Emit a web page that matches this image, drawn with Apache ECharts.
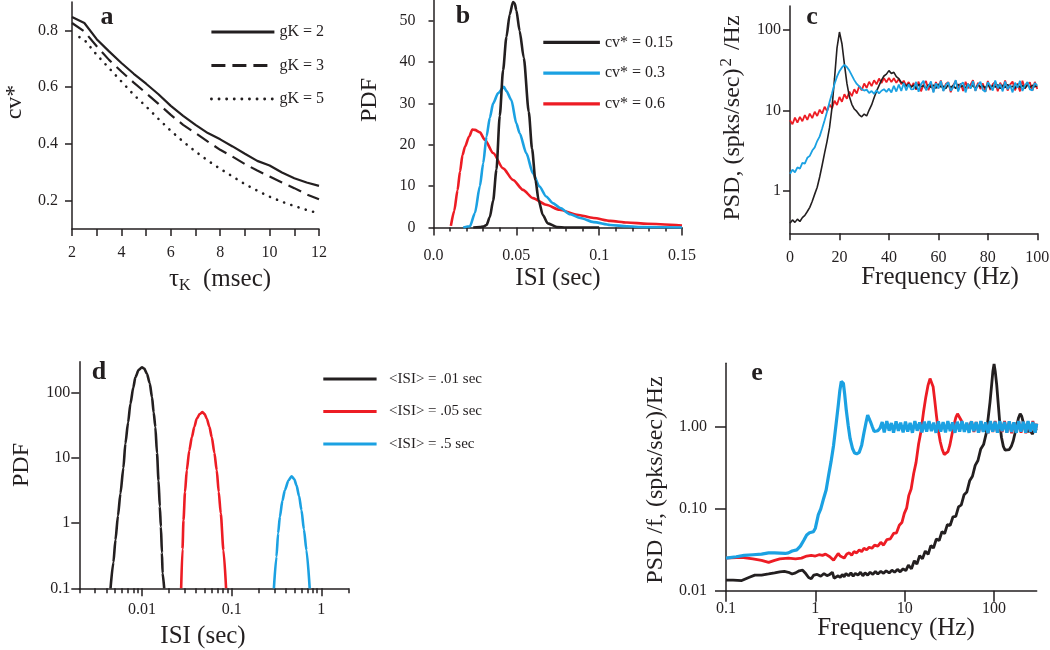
<!DOCTYPE html>
<html>
<head>
<meta charset="utf-8">
<script src="https://cdn.jsdelivr.net/npm/echarts@6/dist/echarts.min.js"></script>
<style>
html,body{margin:0;padding:0;background:#fff;}
#chart{width:1050px;height:650px;}
</style>
</head>
<body>
<div id="chart"></div>
<script>
// ---------- Panel a : cv* vs tau_K ----------
const aG2 = [[2,0.847],[2.5,0.826],[3,0.769],[3.5,0.726],[4,0.685],[4.5,0.647],[5,0.612],[5.5,0.575],[6,0.534],[6.5,0.499],[7,0.467],[7.5,0.438],[8,0.416],[8.5,0.391],[9,0.365],[9.5,0.34],[10,0.324],[10.5,0.299],[11,0.279],[11.5,0.264],[12,0.252]];
const aG3 = [[2,0.826],[2.5,0.796],[3,0.744],[3.5,0.696],[4,0.655],[4.5,0.616],[5,0.579],[5.5,0.541],[6,0.502],[6.5,0.467],[7,0.438],[7.5,0.408],[8,0.379],[8.5,0.355],[9,0.329],[9.5,0.306],[10,0.285],[10.5,0.264],[11,0.244],[11.5,0.222],[12,0.205]];
const aG5 = [[2.3,0.776],[2.5,0.767],[3,0.714],[3.5,0.667],[4,0.62],[4.5,0.573],[5,0.532],[5.5,0.488],[6,0.446],[6.5,0.408],[7,0.373],[7.5,0.341],[8,0.312],[8.5,0.285],[9,0.258],[9.5,0.235],[10,0.214],[10.5,0.196],[11,0.181],[11.5,0.167],[12,0.155]];
const aNames = ['gK = 2','gK = 3','gK = 5'];
const aXLabels = [2,4,6,8,10,12];
const aYTicks = [0.2,0.4,0.6,0.8];

// ---------- Panel b : ISI PDFs ----------
const bBlack = [[0.024,0],[0.028,0.1],[0.030,0.2],[0.032,0.6],[0.034,2.5],[0.036,6.5],[0.038,14],[0.040,27],[0.042,38],[0.044,46],[0.046,51.5],[0.048,54.5],[0.049,54.2],[0.050,52.5],[0.052,47.5],[0.0545,41],[0.0575,28],[0.0595,19],[0.0615,11.5],[0.0635,6.5],[0.066,3],[0.069,1],[0.0745,0.1],[0.08,0],[0.1,0]];
const bBlue = [[0.018,0],[0.022,0.3],[0.025,3.5],[0.028,10],[0.030,15.5],[0.032,22],[0.034,26.5],[0.036,30],[0.039,32.5],[0.0425,34],[0.044,33],[0.047,30.8],[0.050,25.2],[0.052,22.8],[0.056,18],[0.060,13.1],[0.064,9.9],[0.068,7.5],[0.072,5.9],[0.0765,4.7],[0.0825,3.2],[0.0886,2.3],[0.0966,1.3],[0.1067,0.6],[0.1168,0.3],[0.127,0.1],[0.15,0]];
const bRed = [[0.0105,0.4],[0.0125,4],[0.0145,9],[0.016,13.5],[0.0175,17.5],[0.019,19.5],[0.0215,22],[0.0235,23.7],[0.025,23.6],[0.028,23],[0.031,21.2],[0.036,18],[0.042,14.3],[0.048,11.5],[0.054,9.1],[0.060,7.1],[0.068,5.5],[0.076,4.3],[0.0866,3.1],[0.0966,2.3],[0.1067,1.6],[0.1168,1.2],[0.129,0.9],[0.15,0.5]];
const bNames = ['cv* = 0.15','cv* = 0.3','cv* = 0.6'];
const bYTicks = [0,10,20,30,40,50];

// ---------- Panel c : PSD ----------
const cFreq = [0,1,2,3,4,5,6,7,8,9,10,11,12,13,14,15,16,17,18,19,20,21,22,23,24,25,26,27,28,29,30,31,32,33,34,35,36,37,38,39,40,41,42,43,44,45,46,47,48,49,50,51,52,53,54,55,56,57,58,59,60,61,62,63,64,65,66,67,68,69,70,71,72,73,74,75,76,77,78,79,80,81,82,83,84,85,86,87,88,89,90,91,92,93,94,95,96,97,98,99,100];
const cBlack = [0.40,0.44,0.41,0.45,0.42,0.47,0.50,0.56,0.63,0.75,
  0.92,1.12,1.5,2.1,3.0,4.2,6.2,11,25,60,
  95,68,38,22,15,12,10.5,9.8,8.9,8.4,
  9.1,8.6,10.2,11.8,14.5,17.5,20.5,24,27,28.5,
  31.5,29,30,26.5,25,22.5,21.8,20.2,21.5,19.6,
  20.8,18.9,21.3,19.8,20.5,18.6,21.1,19.4,20.9,19.0,
  21.4,19.7,20.2,18.8,21.0,19.5,20.6,18.9,21.2,19.9,
  20.4,19.1,21.5,19.3,20.7,18.7,21.0,19.8,20.3,19.2,
  21.3,19.0,20.6,19.6,21.1,18.8,20.8,19.4,21.2,19.7,
  20.1,18.9,21.4,19.5,20.5,19.0,21.0,19.3,20.7,19.8,
  20.4];
const cBlue = [1.65,1.85,1.72,1.98,1.9,2.25,2.2,2.6,2.75,3.2,
  3.5,4.2,4.8,6.0,7.6,9.8,12.8,16.5,21.5,26.5,
  31,34.5,37,35,31.5,27.5,24,21.5,20,18.5,
  17.8,18.3,16.6,17.6,16.2,17.9,16.4,17.7,18.5,17.1,
  18.8,16.9,20.4,17.3,21.2,17.6,22.1,17.9,21.3,18.4,
  18.6,22.8,17.2,21.4,23.6,17.9,20.2,23.1,16.8,21.9,
  18.9,23.4,17.5,20.8,22.6,17.7,19.6,24.0,17.3,21.2,
  22.4,16.9,21.6,18.8,23.3,17.6,21.0,22.9,18.1,17.2,
  22.6,20.4,17.8,23.7,19.0,21.5,17.4,23.1,18.5,20.9,
  16.9,22.3,19.3,23.5,17.6,20.6,22.8,18.4,17.9,22.1,
  20.5];
const cRed = [7.6,6.8,8.2,7.1,8.4,7.4,8.8,7.7,9.2,8.1,
  9.7,8.6,10.3,9.2,11.2,9.9,12.0,10.7,13.3,11.8,
  14.8,12.9,16.0,14.1,17.3,15.2,18.5,16.4,20.3,17.9,
  21.8,19.2,22.9,20.2,23.9,21.3,25.1,22.1,25.4,22.6,
  25.6,22.8,25.3,22.2,24.8,21.4,23.6,20.4,22.7,19.6,
  22.1,18.2,23.0,17.4,21.2,23.4,18.0,22.0,17.3,22.7,
  19.0,23.8,17.8,21.5,22.6,17.0,20.6,23.5,18.3,21.9,
  17.6,22.9,19.1,21.0,24.0,17.7,22.2,18.6,21.8,17.2,
  23.4,18.1,21.4,22.7,17.5,22.3,19.2,23.7,17.8,21.1,
  23.0,17.9,21.7,17.4,23.6,18.8,21.3,22.5,17.7,22.8,
  18.6];
const cYTicks = [1,10,100];

// ---------- Panel d : log-log ISI PDFs ----------
const dBlack = [[0.00446,0.1],[0.0048,0.25],[0.00506,0.55],[0.0054,1.3],[0.00575,2.84],[0.0062,7],[0.00653,16.6],[0.007,35],[0.00743,67.8],[0.008,120],[0.00844,173],[0.0092,225],[0.01,247],[0.0106,235],[0.01137,195],[0.0122,140],[0.01294,85.7],[0.0135,50],[0.0141,29.8],[0.0147,12],[0.0153,4.5],[0.0158,1.8],[0.01626,0.88],[0.0167,0.35],[0.01698,0.17],[0.0177,0.1]];
const dRed = [[0.02735,0.1],[0.0283,0.4],[0.02904,1.11],[0.0302,3],[0.0316,6.46],[0.0337,13],[0.036,20.9],[0.0384,30],[0.0408,40],[0.044,47],[0.0473,50.5],[0.05,47],[0.0528,40],[0.0565,30],[0.06,20.9],[0.0642,12],[0.0682,6.46],[0.0718,3],[0.0756,1.41],[0.081,0.385],[0.0867,0.1]];
const dBlue = [[0.296,0.1],[0.316,0.305],[0.33,0.7],[0.345,1.25],[0.368,2.2],[0.392,3.2],[0.43,4.5],[0.466,5.24],[0.5,4.7],[0.529,3.81],[0.565,2.6],[0.601,1.58],[0.64,0.8],[0.683,0.385],[0.742,0.1]];
const dNames = ['<ISI> = .01 sec','<ISI> = .05 sec','<ISI> = .5 sec'];
const dXTicks = [0.01,0.1,1];
const dXMinor = [0.002,0.003,0.004,0.005,0.006,0.007,0.008,0.009,0.02,0.03,0.04,0.05,0.06,0.07,0.08,0.09,0.2,0.3,0.4,0.5,0.6,0.7,0.8,0.9,2];
const dYTicks = [0.1,1,10,100];

// ---------- Panel e : PSD/f ----------
const eBlue = [[0.1,0.025],[0.13,0.026],[0.16,0.027],[0.2,0.0275],[0.25,0.028],[0.3,0.029],[0.35,0.029],[0.4,0.0288],[0.46,0.0285],[0.5,0.029],[0.55,0.0305],[0.62,0.0315],[0.68,0.035],[0.74,0.041],[0.8,0.048],[0.86,0.051],[0.95,0.0525],[1.0,0.058],[1.08,0.085],[1.15,0.1],[1.24,0.135],[1.32,0.17],[1.41,0.26],[1.5,0.38],[1.6,0.6],[1.7,1.05],[1.8,1.8],[1.88,2.8],[1.95,3.6],[2.0,3.8],[2.06,3.4],[2.13,2.5],[2.22,1.6],[2.33,1.05],[2.45,0.72],[2.6,0.55],[2.75,0.48],[2.9,0.47],[3.1,0.49],[3.3,0.6],[3.5,0.85],[3.7,1.15],[3.85,1.4],[4.0,1.35],[4.15,1.15],[4.35,1.0],[4.55,0.88],[4.75,0.85],[5.0,0.9],[5.3,0.97],
  [5.6,1.15],[5.9,0.86],[6.3,1.18],[6.7,0.9],[7.1,1.12],[7.5,0.85],[8.0,1.17],[8.5,0.9],[9.0,1.13],[9.6,0.86],[10.2,1.16],[10.8,0.88],[11.5,1.12],[12.2,0.85],[13,1.18],[13.8,0.9],[14.7,1.14],[15.6,0.86],[16.6,1.16],[17.6,0.88],[18.7,1.18],[19.9,0.89],[21.1,1.13],[22.4,0.85],[23.8,1.17],[25.3,0.88],[26.9,1.15],[28.6,0.86],[30.4,1.18],[32.3,0.89],[34.3,1.14],[36.5,0.85],[38.8,1.16],[41.2,0.88],[43.8,1.18],[46.5,0.87],[49.4,1.13],[52.5,0.85],[55.8,1.17],[59.3,0.89],[63,1.15],[67,0.85],[71.2,1.18],[75.7,0.87],[80.4,1.14],[85.5,0.84],[90.8,1.18],[96.5,0.88],[102.6,1.16],[109,0.85],[115.8,1.18],[123,0.89],[130.8,1.15],[139,0.85],[147.7,1.17],[157,0.87],[166.8,1.14],[177.3,0.85],[188.4,1.18],[200,0.88],[212.7,1.16],[226,0.85],[240,1.18],[255,0.88],[271,1.15],[288,0.85],[300,1.1]];
const eRed = [[0.1,0.025],[0.15,0.0255],[0.2,0.0245],[0.25,0.0235],[0.3,0.0222],[0.35,0.0235],[0.4,0.0245],[0.5,0.025],[0.6,0.0245],[0.7,0.025],[0.8,0.0265],[0.9,0.027],[1.0,0.0265],[1.1,0.0275],[1.2,0.027],[1.3,0.028],[1.45,0.026],[1.6,0.0235],[1.7,0.026],[1.8,0.0285],[1.9,0.0265],[2.0,0.0275],[2.1,0.025],[2.25,0.028],[2.4,0.029],[2.55,0.027],[2.7,0.03],[2.9,0.029],[3.1,0.0315],[3.3,0.03],[3.5,0.033],[3.75,0.0315],[4.0,0.034],[4.3,0.033],[4.6,0.036],[5.0,0.035],[5.4,0.039],[5.8,0.036],[6.3,0.042],[6.9,0.043],[7.5,0.05],[8.1,0.051],[8.7,0.063],[9.3,0.068],[9.9,0.088],[10.5,0.102],[11.1,0.145],[11.8,0.175],[12.6,0.27],[13.4,0.37],[14.3,0.62],[15.2,0.88],[16.2,1.5],[17.2,2.3],[18.2,3.2],[19.2,3.9],[20.0,3.85],[20.8,3.1],[21.7,2.1],[22.7,1.35],[23.8,0.9],[25,0.66],[26.3,0.53],[27.7,0.46],[29,0.45],[30.5,0.5],[32,0.6],[33.7,0.8],[35.5,1.05],[37.3,1.3],[39,1.45],[41,1.4],[43,1.2],[45,1.05],[47.5,0.95],[50,0.92],
  [53,1.05],[56,1.17],[59.5,0.87],[63.2,1.15],[67.2,0.85],[71.4,1.17],[75.9,0.88],[80.6,1.14],[85.7,0.84],[91,1.16],[96.7,0.87],[102.8,1.18],[109.2,0.85],[116,1.14],[123.3,0.87],[131,1.18],[139.2,0.85],[148,1.16],[157.2,0.84],[167,1.14],[177.5,0.87],[188.6,1.18],[200.4,0.85],[213,1.16],[226.3,0.84],[240.5,1.16],[255.6,0.87],[271.6,1.18],[288.6,0.85],[300,1.1]];
const eBlack = [[0.1,0.0135],[0.12,0.0135],[0.15,0.0133],[0.18,0.0145],[0.21,0.0155],[0.25,0.0155],[0.3,0.016],[0.35,0.0165],[0.4,0.017],[0.45,0.0172],[0.5,0.0168],[0.55,0.016],[0.6,0.0165],[0.66,0.0175],[0.72,0.0178],[0.78,0.0162],[0.84,0.0145],[0.9,0.014],[0.96,0.0155],[1.05,0.0158],[1.15,0.015],[1.25,0.0162],[1.35,0.0153],[1.45,0.0158],[1.55,0.0168],[1.62,0.0142],[1.7,0.014],[1.8,0.0152],[1.9,0.0145],[2.0,0.0158],[2.1,0.0148],[2.2,0.0162],[2.35,0.0152],[2.5,0.0165],[2.65,0.015],[2.8,0.0163],[3.0,0.0155],[3.2,0.0168],[3.4,0.0152],[3.6,0.0165],[3.85,0.0155],[4.1,0.0168],[4.4,0.0158],[4.7,0.0172],[5.0,0.016],[5.4,0.0172],[5.8,0.0163],[6.2,0.0175],[6.7,0.0165],[7.2,0.0178],[7.7,0.0168],[8.3,0.0182],[8.9,0.017],[9.6,0.0185],[10.3,0.0176],[11,0.0205],[11.9,0.0185],[12.8,0.0232],[13.7,0.0212],[14.7,0.0268],[15.8,0.0246],[17,0.0305],[18.3,0.0278],[19.6,0.0355],[21,0.0332],[22.6,0.0428],[24.3,0.041],[26.1,0.0525],[28,0.05],[30,0.064],[32.3,0.063],[34.7,0.08],[37.3,0.081],[40,0.106],[43,0.112],[46.2,0.149],[49.6,0.161],[53.3,0.22],[57.3,0.25],[61.5,0.34],[66,0.39],[71,0.54],[76.3,0.61],[82,0.85],[86,1.3],[90,2.0],[94,3.3],[97,4.8],[100,5.9],[103,4.8],[107,3.3],[111,2.0],[116,1.1],[121,0.75],[127,0.58],[133,0.52],[140,0.51],[148,0.53],[156,0.58],[164,0.68],[172,0.85],[180,1.05],[188,1.3],[196,1.45],[204,1.35],[214,1.1],[225,0.95],[238,0.88],[252,0.92],[268,0.82],[285,0.95],[300,0.9]];
const eXTicks = [0.1,1,10,100];
const eYTicks = [0.01,0.1,1];

// ---------- styling ----------
const FONT = 'Liberation Serif';
const INK = '#231f20';
const RED = '#ed1c24';
const BLUE = '#1ba1e2';
const tickFont = {fontFamily: FONT, fontSize: 16, color: INK};
const axLine = {show: true, lineStyle: {color: INK, width: 1.5}};

function xAx(grid, opt) {
  return Object.assign({gridIndex: grid, position: 'bottom', axisLine: axLine, splitLine: {show: false}}, opt);
}
function yAx(grid, opt) {
  return Object.assign({gridIndex: grid, position: 'left', axisLine: axLine, splitLine: {show: false}}, opt);
}
function tick(len, custom) {
  const t = {show: true, length: len, lineStyle: {color: INK, width: 1.5}};
  if (custom) t.customValues = custom;
  return t;
}
function line(name, xi, yi, data, color, width, extra) {
  return {
    name: name, type: 'line', xAxisIndex: xi, yAxisIndex: yi, data: data,
    symbol: 'none', showSymbol: false, animation: false,
    lineStyle: Object.assign({color: color, width: width}, extra || {}),
    itemStyle: {color: color}
  };
}
const zip = (xs, ys) => xs.map((x, i) => [x, ys[i]]);

const grids = [
  {left: 72, top: 2, width: 247, height: 227},
  {left: 433.5, top: 0, width: 248.5, height: 227.5},
  {left: 790, top: 6, width: 247.3, height: 227.3},
  {left: 79.3, top: 361.7, width: 269, height: 226.6},
  {left: 726, top: 363.3, width: 310.7, height: 227.4}
].map(g => Object.assign({outerBoundsMode: 'none', containLabel: false}, g));

const xAxes = [
  xAx(0, {type: 'value', min: 2, max: 12, interval: 1, axisTick: tick(7),
    axisLabel: Object.assign({customValues: aXLabels, margin: 16}, tickFont)}),
  xAx(1, {type: 'value', min: 0, max: 0.15, interval: 0.05, offset: 6, axisTick: tick(8),
    minorTick: {show: true, splitNumber: 5, length: 4, lineStyle: {color: INK, width: 1.5}},
    axisLabel: Object.assign({margin: 14, formatter: v => (v === 0 ? '0.0' : String(+v.toFixed(2)))}, tickFont)}),
  xAx(2, {type: 'value', min: 0, max: 100, interval: 20, axisTick: tick(7),
    axisLabel: Object.assign({margin: 16}, tickFont)}),
  xAx(3, {type: 'log', min: 0.002, max: 2, axisTick: tick(8, dXTicks),
    axisLabel: Object.assign({customValues: dXTicks, margin: 13, formatter: v => String(+(+v).toPrecision(3))}, tickFont)}),
  xAx(3, {type: 'log', min: 0.002, max: 2, axisLine: {show: false}, axisTick: tick(5, dXMinor),
    axisLabel: {show: false}}),
  xAx(4, {type: 'log', min: 0.1, max: 300, axisTick: tick(11, eXTicks),
    axisLabel: Object.assign({customValues: eXTicks, margin: 10, formatter: v => String(+(+v).toPrecision(3))}, tickFont)})
];
const yAxes = [
  yAx(0, {type: 'value', min: 0.1, max: 0.9, axisTick: tick(7, aYTicks),
    axisLabel: Object.assign({customValues: aYTicks, margin: 14, formatter: v => (+v).toFixed(1)}, tickFont)}),
  yAx(1, {type: 'value', min: 0, max: 55, axisTick: tick(5, bYTicks),
    axisLabel: Object.assign({customValues: bYTicks, margin: 18}, tickFont)}),
  yAx(2, {type: 'log', min: 0.3, max: 200, axisTick: tick(7, cYTicks),
    axisLabel: Object.assign({customValues: cYTicks, margin: 9, formatter: v => String(Math.round(v))}, tickFont)}),
  yAx(3, {type: 'log', min: 0.1, max: 300, axisTick: tick(8, dYTicks),
    axisLabel: Object.assign({customValues: dYTicks, margin: 9, formatter: v => String(+(+v).toPrecision(3))}, tickFont)}),
  yAx(4, {type: 'log', min: 0.01, max: 6, axisTick: tick(11, eYTicks),
    axisLabel: Object.assign({customValues: eYTicks, margin: 19, formatter: v => (+v).toFixed(2)}, tickFont)})
];

const series = [
  line(aNames[0], 0, 0, aG2, INK, 2.2),
  line(aNames[1], 0, 0, aG3, INK, 2.2, {type: [14, 7]}),
  line(aNames[2], 0, 0, aG5, INK, 2.6, {type: [0.1, 7.5], cap: 'round'}),
  line(bNames[2], 1, 1, bRed, RED, 2.6),
  line(bNames[1], 1, 1, bBlue, BLUE, 2.6),
  line(bNames[0], 1, 1, bBlack, INK, 2.6),
  line('c red', 2, 2, zip(cFreq, cRed), RED, 1.8),
  line('c black', 2, 2, zip(cFreq, cBlack), INK, 1.6),
  line('c blue', 2, 2, zip(cFreq, cBlue), BLUE, 1.8),
  line(dNames[0], 3, 3, dBlack, INK, 2.6),
  line(dNames[1], 3, 3, dRed, RED, 2.6),
  line(dNames[2], 3, 3, dBlue, BLUE, 2.6),
  line('e black', 5, 4, eBlack, INK, 2.8),
  line('e red', 5, 4, eRed, RED, 2.8),
  line('e blue', 5, 4, eBlue, BLUE, 3.2)
];
[3,4,5,9,10,11].forEach(i => { series[i].smooth = 0.25; series[i].smoothMonotone = 'x'; });

const legendText = {fontFamily: FONT, fontSize: 16, color: INK, lineHeight: 18};
const legends = [
  {data: aNames, left: 210, top: 23, itemWidth: 63, itemHeight: 18, itemGap: 15.5, lineStyle: {width: 2.8}},
  {data: bNames, left: 541.7, top: 33.3, itemWidth: 56.6, itemHeight: 18, itemGap: 12.8, lineStyle: {width: 3.2}},
  {data: dNames, left: 321.7, top: 370, itemWidth: 53.3, itemHeight: 18, itemGap: 14.5, lineStyle: {width: 3.2},
   formatter: n => '  ' + n, textStyle: Object.assign({}, legendText, {fontSize: 15})}
].map(l => Object.assign({orient: 'vertical', padding: 0, selectedMode: false, textStyle: legendText,
  itemStyle: {opacity: 0, borderWidth: 0}}, l));

function txt(x, y, text, size, opt) {
  return Object.assign({type: 'text', x: x, y: y, silent: true,
    style: Object.assign({text: text, fontFamily: FONT, fontSize: size, fill: INK, align: 'center', verticalAlign: 'middle'}, (opt && opt.style) || {})},
    opt && opt.rotation ? {rotation: opt.rotation} : {});
}
const V = Math.PI / 2;
const graphics = [
  txt(107, 17, 'a', 26, {style: {fontWeight: 'bold'}}),
  txt(463, 16, 'b', 26, {style: {fontWeight: 'bold'}}),
  txt(812, 17, 'c', 26, {style: {fontWeight: 'bold'}}),
  txt(99, 372, 'd', 26, {style: {fontWeight: 'bold'}}),
  txt(757, 373, 'e', 26, {style: {fontWeight: 'bold'}}),
  txt(15, 102, 'cv*', 24, {rotation: V}),
  txt(220, 279, '{m|τ}{s|K}{m|  (msec)}', 25, {style: {rich: {
    m: {fontFamily: FONT, fontSize: 25, fill: INK, lineHeight: 30},
    s: {fontFamily: FONT, fontSize: 16, fill: INK, lineHeight: 16, verticalAlign: 'bottom'}}}}),
  txt(370, 100, 'PDF', 24, {rotation: V}),
  txt(558, 278, 'ISI (sec)', 25),
  txt(733, 118, '{m|PSD, (spks/sec)}{p|2}{m| /Hz}', 24, {rotation: V, style: {rich: {
    m: {fontFamily: FONT, fontSize: 24, fill: INK, lineHeight: 30},
    p: {fontFamily: FONT, fontSize: 17, fill: INK, lineHeight: 17, verticalAlign: 'top', padding: [0, 2, 0, 2]}}}}),
  txt(940, 277, 'Frequency (Hz)', 25),
  txt(22, 465, 'PDF', 24, {rotation: V}),
  txt(203, 636, 'ISI (sec)', 25),
  txt(656, 480, 'PSD /f, (spks/sec)/Hz', 24, {rotation: V}),
  txt(896, 628, 'Frequency (Hz)', 25)
];

const chart = echarts.init(document.getElementById('chart'), null, {renderer: 'canvas'});
chart.setOption({
  backgroundColor: '#ffffff',
  animation: false,
  textStyle: {fontFamily: FONT},
  grid: grids,
  xAxis: xAxes,
  yAxis: yAxes,
  legend: legends,
  series: series,
  graphic: graphics
});
</script>
</body>
</html>
